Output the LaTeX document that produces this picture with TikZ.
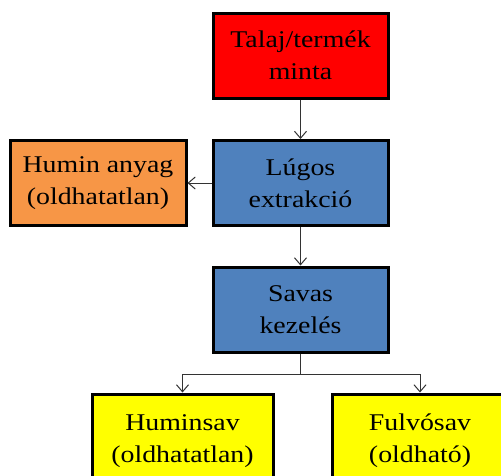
\documentclass[tikz,border=0pt]{standalone}
\usepackage{fontspec}
\setmainfont[FakeStretch=1.16]{Liberation Serif}
\usetikzlibrary{arrows.meta}
\definecolor{cred}{HTML}{FF0000}
\definecolor{cblue}{HTML}{4F81BD}
\definecolor{corange}{HTML}{F79646}
\definecolor{cyellow}{HTML}{FFFF00}
\tikzset{
  box/.style={draw=black, line width=3pt, minimum width=175pt, minimum height=85pt,
    align=center, inner sep=0pt, font=\fontsize{24}{32}\selectfont},
  link/.style={draw=black!80, line width=1pt, -{Straight Barb[length=7pt,width=12pt,line width=1pt]}},
}
\begin{document}
\begin{tikzpicture}[x=1pt,y=-1pt]
\useasboundingbox (0,0) rectangle (501,475);
\clip (0,0) rectangle (501,475);
\node[box, fill=cred] (talaj) at (300.5,55.5) {Talaj/termék\\minta};
\node[box, fill=cblue] (lugos) at (300.5,183) {Lúgos\\extrakció};
\node[box, fill=corange, minimum width=176pt] (humin) at (98,183) {Humin anyag\\(oldhatatlan)};
\node[box, fill=cblue] (savas) at (300.5,309.5) {Savas\\kezelés};
\node[box, fill=cyellow, minimum width=181pt, minimum height=94pt] (huminsav) at (182.5,441) {Huminsav\\(oldhatatlan)};
\node[box, fill=cyellow, minimum width=176pt, minimum height=94pt] (fulvo) at (420,441) {Fulvósav\\(oldható)};
\coordinate (split) at (300.5,374);
\draw[link] (talaj) -- (lugos);
\draw[link] (lugos) -- (humin);
\draw[link] (lugos) -- (savas);
\draw[line width=1pt, draw=black!80] (savas.south) -- (split);
\draw[link] (split) -| (huminsav.north);
\draw[link] (split) -| (fulvo.north);
\end{tikzpicture}
\end{document}
